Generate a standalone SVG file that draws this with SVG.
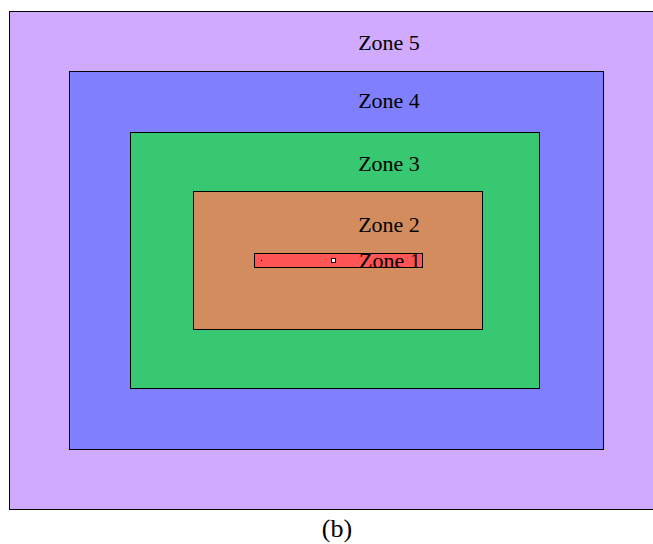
<svg xmlns="http://www.w3.org/2000/svg" width="653" height="544" viewBox="0 0 653 544">
<style>
.z{stroke:#000;stroke-width:1}
.t{font-family:"Liberation Serif",serif;font-size:22px;fill:#000}
</style>
<rect width="653" height="544" fill="#fff"/>
<g id="zone5"><rect class="z" x="9.5" y="11.5" width="650" height="498" fill="#cfaaff"/><text class="t" x="389" y="50" text-anchor="middle">Zone 5</text></g>
<g id="zone4"><rect class="z" x="69.5" y="71.5" width="534" height="378" fill="#8080ff"/><text class="t" x="389" y="108" text-anchor="middle">Zone 4</text></g>
<g id="zone3"><rect class="z" x="130.5" y="132.5" width="409" height="256" fill="#38c872"/><text class="t" x="389" y="171" text-anchor="middle">Zone 3</text></g>
<g id="zone2"><rect class="z" x="193.5" y="191.5" width="289" height="138" fill="#d38c5e"/><text class="t" x="389" y="232" text-anchor="middle">Zone 2</text></g>
<g id="zone1"><rect class="z" x="254.5" y="253.5" width="168" height="14" fill="#ff5555"/><text class="t" x="359" y="268">Zone 1</text>
<rect x="331.5" y="258.5" width="4" height="4" fill="#fff" stroke="#000" stroke-width="1"/>
<rect x="261" y="260" width="1" height="1" fill="#000"/></g>
<text class="t" x="337" y="537" text-anchor="middle" style="font-size:26px">(b)</text>
</svg>
